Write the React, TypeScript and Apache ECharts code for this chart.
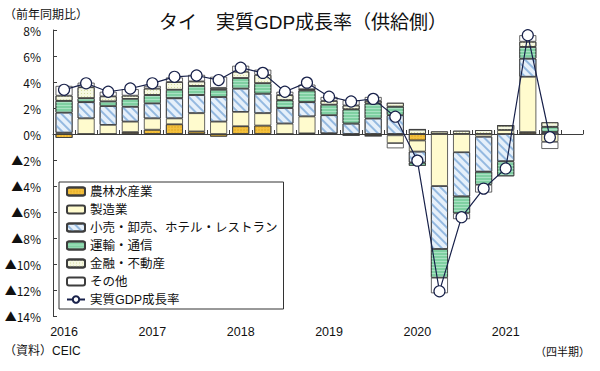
import React, { useEffect, useRef } from "react";
import * as echarts from "echarts";

const categories = [
  "2016Q1","2016Q2","2016Q3","2016Q4",
  "2017Q1","2017Q2","2017Q3","2017Q4",
  "2018Q1","2018Q2","2018Q3","2018Q4",
  "2019Q1","2019Q2","2019Q3","2019Q4",
  "2020Q1","2020Q2","2020Q3","2020Q4",
  "2021Q1","2021Q2","2021Q3","2021Q4",
];
const yearLabels = ["2016", "2017", "2018", "2019", "2020", "2021"];

const agri = [-0.3, 0.0, 0.0, 0.15, 0.33, 0.75, 0.2, -0.2, 0.6, 0.65, 0.0, 0.05, -0.05, -0.1, -0.15, -0.1, -0.5, 0, 0, 0, 0, 0.15, 0];
const manuf = [0.1, 1.2, 0.7, 0.8, 0.87, 0.45, 1.4, 0.95, 1.1, 0.95, 0.8, 1.3, 0.05, 0.0, 0.0, -0.6, -0.85, -4.0, -1.4, -0.2, 0.3, 4.25, -0.6];
const retail = [1.55, 1.25, 1.45, 1.15, 1.16, 1.55, 1.4, 1.9, 1.8, 1.5, 1.2, 1.1, 1.4, 0.8, 1.2, 1.45, -0.85, -4.85, -3.4, -2.7, -2.1, 1.4, 0.15];
const transport = [0.9, 0.3, 0.35, 0.6, 0.64, 0.65, 0.7, 0.55, 0.8, 0.8, 0.6, 0.9, 0.8, 1.1, 1.15, 0.65, -0.25, -2.2, -1.3, -1.0, -1.15, 0.9, 0.4];
const finance = [0.4, 0.85, 0.4, 0.25, 0.5, 0.6, 0.35, 0.15, 0.5, 0.65, 0.4, 0.1, 0.3, 0.3, 0.2, 0.3, 0.35, 0.2, 0.25, 0.3, 0.35, 0.4, 0.35];
const other = [0.75, 0.35, 0.35, 0.5, 0.2, 0.35, 0.5, 0.85, 0.45, 0.4, 0.25, 0.35, 0.3, 0.4, 0.3, -0.4, 0, -1.2, -0.45, -0.6, 0, 0.5, -0.55];
const gdp = [3.4, 3.9, 3.25, 3.5, 3.9, 4.4, 4.5, 4.15, 5.1, 4.7, 3.25, 3.95, 2.87, 2.5, 2.7, 1.33, -2.05, -12.1, -6.4, -4.2, -2.65, 7.6, -0.25];

const seriesNames = [
  "農林水産業",
  "製造業",
  "小売・卸売、ホテル・レストラン",
  "運輸・通信",
  "金融・不動産",
  "その他",
  "実質GDP成長率",
];

const CJK = "'Liberation Sans', 'Noto Sans CJK JP', sans-serif";
const JP = "'Noto Sans CJK JP', sans-serif";
const BORDER = "#3d3d3d";
const NAVY = "#18214A";

export default function App() {
  const ref = useRef<HTMLDivElement>(null);
  useEffect(() => {
    if (!ref.current) return;
    const chart = echarts.init(ref.current, null, { renderer: "svg" });
    const bar = (name: string, data: number[], color: string, decal?: any) => ({
      name,
      type: "bar",
      stack: "total",
      barWidth: 17,
      xAxisIndex: 0,
      data,
      itemStyle: {
        color,
        borderColor: BORDER,
        borderWidth: 0.8,
        ...(decal ? { decal } : {}),
      },
    });
    const option: any = {
      animation: false,
      backgroundColor: "#fff",
      title: {
        text: "タイ　実質GDP成長率（供給側）",
        left: 298,
        textAlign: "center",
        top: 8,
        textStyle: { fontFamily: CJK, fontSize: 19, fontWeight: "normal", color: "#111" },
      },
      graphic: [
        { type: "text", left: 4, top: 7, style: { text: "（前年同期比）", font: `12px ${JP}`, fill: "#111" } },
        { type: "text", left: 4, top: 345, style: { text: "（資料）CEIC", font: `12px ${CJK}`, fill: "#111" } },
        { type: "text", right: 10, top: 345, style: { text: "（四半期）", font: `11px ${JP}`, fill: "#111" } },
      ],
      legend: {
        orient: "vertical",
        left: 59,
        top: 182,
        data: seriesNames,
        backgroundColor: "#fff",
        borderColor: "#333",
        borderWidth: 1,
        borderRadius: 0,
        padding: [2, 6, 2, 7],
        itemGap: 3,
        itemWidth: 18,
        itemHeight: 8,
        itemTextGap: 3,
        textStyle: { fontFamily: CJK, fontSize: 12.5, color: "#111", lineHeight: 15 },
      },
      grid: { left: 53, right: 17, top: 30, bottom: 55 },
      xAxis: [
        {
          type: "category",
          data: categories,
          axisLine: { onZero: true, lineStyle: { color: BORDER, width: 1 } },
          axisTick: { show: true, inside: true, length: 4, interval: 0, lineStyle: { color: BORDER } },
          axisLabel: { show: false },
        },
        {
          type: "category",
          data: categories,
          position: "bottom",
          axisLine: { show: false, onZero: false },
          axisTick: { show: false },
          axisLabel: {
            interval: 0,
            margin: 10,
            fontFamily: CJK,
            fontSize: 12.5,
            color: "#111",
            formatter: (_v: string, i: number) => (i % 4 === 0 ? yearLabels[i / 4] : ""),
          },
        },
      ],
      yAxis: {
        type: "value",
        min: -14,
        max: 8,
        interval: 2,
        splitLine: { show: false },
        axisLine: { show: true, lineStyle: { color: BORDER, width: 1 } },
        axisTick: { show: true, inside: true, length: 4, lineStyle: { color: BORDER } },
        axisLabel: {
          margin: 12,
          fontFamily: JP,
          fontSize: 12,
          color: "#111",
          formatter: (v: number) => (v < 0 ? "▲" + -v + "%" : v + "%"),
        },
      },
      series: [
        bar(seriesNames[0], agri, "#F4C13E", {
          symbol: "circle", symbolSize: 0.6, color: "#D89A18", dashArrayX: [2, 1], dashArrayY: [2, 1],
        }),
        bar(seriesNames[1], manuf, "#FFFBCE"),
        bar(seriesNames[2], retail, "#E6F0FA", {
          symbol: "rect", symbolSize: 1, color: "#94B9E0", dashArrayX: [1, 0], dashArrayY: [1.5, 4], rotation: Math.PI / 4,
        }),
        bar(seriesNames[3], transport, "#7FD0A2", {
          symbol: "rect", symbolSize: 1, color: "#A9E2C3", dashArrayX: [1, 0], dashArrayY: [1, 2], rotation: 0,
        }),
        bar(seriesNames[4], finance, "#F6F8E2", {
          symbol: "rect", symbolSize: 1, color: "#D6DCA2", dashArrayX: [1, 2], dashArrayY: [1, 2], rotation: 0,
        }),
        bar(seriesNames[5], other, "#FFFFFF"),
        {
          name: seriesNames[6],
          type: "line",
          xAxisIndex: 0,
          data: gdp,
          z: 5,
          symbol: "circle",
          symbolSize: 11,
          lineStyle: { color: NAVY, width: 1.2 },
          itemStyle: { color: "#FFFFFF", borderColor: NAVY, borderWidth: 1.2 },
        },
      ],
    };
    chart.setOption(option);
    return () => chart.dispose();
  }, []);
  return <div ref={ref} style={{ width: 600, height: 371, position: "absolute", left: 0, top: 0 }} />;
}
